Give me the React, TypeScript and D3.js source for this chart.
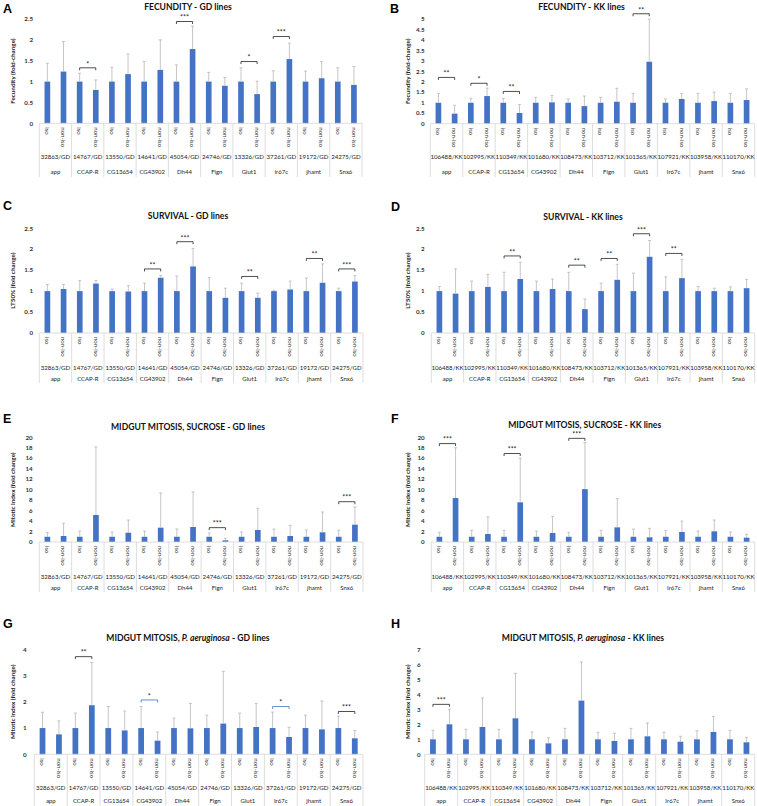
import React from "react";
import * as d3 from "d3";

// ---------- shared categories ----------
const GENES = ["app", "CCAP-R", "CG13654", "CG43902", "Dh44", "Fign", "Glut1", "Ir67c", "jhamt", "Snx6"];
const GD_LINES = ["32863/GD", "14767/GD", "13550/GD", "14641/GD", "45054/GD", "24746/GD", "13326/GD", "37261/GD", "19172/GD", "24275/GD"];
const KK_LINES = ["106488/KK", "102995/KK", "110349/KK", "101680/KK", "108473/KK", "103712/KK", "101365/KK", "107921/KK", "103958/KK", "110170/KK"];
const CONDITIONS = ["iso", "non-iso"];
const ISO_MEAN = [1, 1, 1, 1, 1, 1, 1, 1, 1, 1];

// ---------- A: fecundity GD ----------
const A_TICKS = [0, 0.5, 1, 1.5, 2, 2.5];
const A_NONISO = [1.24, 0.8, 1.18, 1.28, 1.78, 0.9, 0.7, 1.54, 1.08, 0.92];
const A_ISO_SD = [0.44, 0.2, 0.34, 0.48, 0.4, 0.22, 0.33, 0.26, 0.25, 0.33];
const A_NONISO_SD = [0.72, 0.24, 0.48, 0.72, 0.55, 0.2, 0.31, 0.38, 0.4, 0.44];
const A_SIG = [
  { gene: "CCAP-R", label: "*", level: 1.33 },
  { gene: "Dh44", label: "***", level: 2.44 },
  { gene: "Glut1", label: "*", level: 1.48 },
  { gene: "Ir67c", label: "***", level: 2.08 },
];

// ---------- B: fecundity KK ----------
const B_TICKS = [0, 0.5, 1, 1.5, 2, 2.5, 3, 3.5, 4, 4.5, 5];
const B_NONISO = [0.48, 1.32, 0.51, 1.02, 0.84, 1.05, 2.96, 1.18, 1.08, 1.13];
const B_ISO_SD = [0.45, 0.21, 0.21, 0.26, 0.18, 0.26, 0.45, 0.18, 0.45, 0.45];
const B_NONISO_SD = [0.4, 0.38, 0.41, 0.33, 0.48, 0.64, 2.04, 0.27, 0.43, 0.53];
const B_SIG = [
  { gene: "app", label: "**", level: 2.21 },
  { gene: "CCAP-R", label: "*", level: 1.93 },
  { gene: "CG13654", label: "**", level: 1.54 },
  { gene: "Glut1", label: "**", level: 5.25 },
];

// ---------- C: survival GD ----------
const C_TICKS = [0, 0.5, 1, 1.5, 2, 2.5];
const C_NONISO = [1.05, 1.18, 0.99, 1.32, 1.59, 0.84, 0.84, 1.04, 1.2, 1.23];
const C_ISO_SD = [0.16, 0.25, 0.05, 0.19, 0.36, 0.32, 0.19, 0.02, 0.31, 0.07];
const C_NONISO_SD = [0.11, 0.07, 0.14, 0.05, 0.43, 0.23, 0.11, 0.2, 0.45, 0.14];
const C_SIG = [
  { gene: "CG43902", label: "**", level: 1.53 },
  { gene: "Dh44", label: "***", level: 2.18 },
  { gene: "Glut1", label: "**", level: 1.35 },
  { gene: "jhamt", label: "**", level: 1.78 },
  { gene: "Snx6", label: "***", level: 1.53 },
];

// ---------- D: survival KK ----------
const D_TICKS = [0, 0.5, 1, 1.5, 2, 2.5];
const D_NONISO = [0.94, 1.1, 1.29, 1.05, 0.57, 1.27, 1.82, 1.31, 1.0, 1.07];
const D_ISO_SD = [0.11, 0.24, 0.45, 0.24, 0.45, 0.19, 0.43, 0.34, 0.11, 0.1];
const D_NONISO_SD = [0.59, 0.3, 0.4, 0.24, 0.24, 0.37, 0.39, 0.45, 0.07, 0.21];
const D_SIG = [
  { gene: "CG13654", label: "**", level: 1.84 },
  { gene: "Dh44", label: "**", level: 1.62 },
  { gene: "Fign", label: "**", level: 1.78 },
  { gene: "Glut1", label: "***", level: 2.37 },
  { gene: "Ir67c", label: "**", level: 1.9 },
];

// ---------- E: mitosis sucrose GD ----------
const E_TICKS = [0, 2, 4, 6, 8, 10, 12, 14, 16, 18, 20];
const E_NONISO = [1.15, 5.16, 1.78, 2.74, 2.87, 0.32, 2.3, 1.15, 1.85, 3.31];
const E_ISO_SD = [0.78, 1.1, 0.9, 1.1, 1.48, 0.72, 0.9, 1.48, 1.29, 1.23];
const E_NONISO_SD = [2.42, 13.0, 2.42, 6.62, 6.68, 0.38, 4.13, 2.03, 3.88, 3.38];
const E_SIG = [
  { gene: "Fign", label: "***", level: 2.74 },
  { gene: "Snx6", label: "***", level: 7.7 },
];

// ---------- F: mitosis sucrose KK ----------
const F_TICKS = [0, 2, 4, 6, 8, 10, 12, 14, 16, 18, 20];
const F_NONISO = [8.4, 1.53, 7.58, 1.72, 10.1, 2.8, 0.9, 1.91, 2.04, 0.83];
const F_ISO_SD = [0.85, 1.23, 1.23, 1.1, 0.85, 1.23, 1.48, 1.23, 1.1, 0.91];
const F_NONISO_SD = [9.6, 3.25, 8.42, 3.18, 8.9, 5.48, 1.71, 2.09, 2.16, 0.63];
const F_SIG = [
  { gene: "app", label: "***", level: 18.8 },
  { gene: "CG13654", label: "***", level: 16.9 },
  { gene: "Dh44", label: "***", level: 19.8 },
];

// ---------- G: mitosis P. aeruginosa GD ----------
const G_TICKS = [0, 1, 2, 3, 4];
const G_NONISO = [0.76, 1.87, 0.91, 0.52, 0.99, 1.17, 1.04, 0.66, 0.95, 0.61];
const G_ISO_SD = [0.6, 0.57, 0.82, 0.82, 0.38, 0.49, 0.57, 0.61, 0.49, 0.45];
const G_NONISO_SD = [0.51, 1.63, 0.74, 0.33, 0.95, 1.99, 0.9, 0.37, 1.08, 0.3];
const G_SIG = [
  { gene: "CCAP-R", label: "**", level: 3.72 },
  { gene: "CG43902", label: "*", level: 2.07, blue: true },
  { gene: "Ir67c", label: "*", level: 1.82, blue: true },
  { gene: "Snx6", label: "***", level: 1.63 },
];

// ---------- H: mitosis P. aeruginosa KK ----------
const H_TICKS = [0, 1, 2, 3, 4, 5, 6, 7];
const H_NONISO = [2.0, 1.82, 2.4, 0.73, 3.58, 0.89, 1.2, 0.84, 1.49, 0.8];
const H_ISO_SD = [0.6, 0.67, 0.67, 0.49, 0.73, 0.47, 0.73, 0.47, 0.56, 0.6];
const H_NONISO_SD = [1.0, 1.93, 3.0, 0.38, 2.57, 0.51, 0.89, 0.36, 1.04, 0.33];
const H_SIG = [{ gene: "app", label: "***", level: 3.33 }];

// ---------- layout ----------
type Sig = { gene: string; label: string; level: number; blue?: boolean };
type Cfg = {
  letter: string;
  title: string;
  yLabel: string;
  lines: string[];
  ticks: number[];
  noniso: number[];
  isoSd: number[];
  nonisoSd: number[];
  sig: Sig[];
  x0: number; x1: number; yTop: number; yZero: number;
  tickX: number; numsY: number; geneY: number; divBottom: number;
  titleX: number; titleY: number; letterX: number; letterY: number; yTitleX: number;
};

const PANELS: Cfg[] = [
  { letter: "A", title: "FECUNDITY - GD lines", yLabel: "Fecundity (fold-change)", lines: GD_LINES, ticks: A_TICKS,
    noniso: A_NONISO, isoSd: A_ISO_SD, nonisoSd: A_NONISO_SD, sig: A_SIG,
    x0: 39.3, x1: 362, yTop: 19, yZero: 123.3, tickX: 33, numsY: 159, geneY: 174, divBottom: 177,
    titleX: 188, titleY: 9.7, letterX: 3, letterY: 13.3, yTitleX: 15 },
  { letter: "B", title: "FECUNDITY - KK lines", yLabel: "Fecundity (fold-change)", lines: KK_LINES, ticks: B_TICKS,
    noniso: B_NONISO, isoSd: B_ISO_SD, nonisoSd: B_NONISO_SD, sig: B_SIG,
    x0: 430.3, x1: 754.7, yTop: 19, yZero: 123.7, tickX: 424.7, numsY: 159, geneY: 174, divBottom: 177,
    titleX: 581.5, titleY: 9.7, letterX: 390, letterY: 13.3, yTitleX: 410 },
  { letter: "C", title: "SURVIVAL - GD lines", yLabel: "LT50% (fold change)", lines: GD_LINES, ticks: C_TICKS,
    noniso: C_NONISO, isoSd: C_ISO_SD, nonisoSd: C_NONISO_SD, sig: C_SIG,
    x0: 39.3, x1: 363, yTop: 228.3, yZero: 333, tickX: 33, numsY: 370, geneY: 380.5, divBottom: 383,
    titleX: 188, titleY: 219, letterX: 3, letterY: 210, yTitleX: 15 },
  { letter: "D", title: "SURVIVAL - KK lines", yLabel: "LT50% (fold change)", lines: KK_LINES, ticks: D_TICKS,
    noniso: D_NONISO, isoSd: D_ISO_SD, nonisoSd: D_NONISO_SD, sig: D_SIG,
    x0: 431.3, x1: 754.7, yTop: 228.3, yZero: 333, tickX: 424.7, numsY: 370, geneY: 380.5, divBottom: 383,
    titleX: 583, titleY: 219.7, letterX: 391, letterY: 210.7, yTitleX: 410.3 },
  { letter: "E", title: "MIDGUT MITOSIS, SUCROSE - GD lines", yLabel: "Mitotic index (fold change)", lines: GD_LINES, ticks: E_TICKS,
    noniso: E_NONISO, isoSd: E_ISO_SD, nonisoSd: E_NONISO_SD, sig: E_SIG,
    x0: 39.3, x1: 363, yTop: 437.3, yZero: 542, tickX: 32.7, numsY: 579, geneY: 590, divBottom: 592,
    titleX: 188, titleY: 429.7, letterX: 3, letterY: 423.3, yTitleX: 15 },
  { letter: "F", title: "MIDGUT MITOSIS, SUCROSE - KK lines", yLabel: "Mitotic index (fold change)", lines: KK_LINES, ticks: F_TICKS,
    noniso: F_NONISO, isoSd: F_ISO_SD, nonisoSd: F_NONISO_SD, sig: F_SIG,
    x0: 431.3, x1: 754.7, yTop: 437.3, yZero: 542, tickX: 424.7, numsY: 579, geneY: 590, divBottom: 592,
    titleX: 584.7, titleY: 428, letterX: 391, letterY: 423.3, yTitleX: 410.3 },
  { letter: "G", title: "GD", yLabel: "Mitotic index (fold change)", lines: GD_LINES, ticks: G_TICKS,
    noniso: G_NONISO, isoSd: G_ISO_SD, nonisoSd: G_NONISO_SD, sig: G_SIG,
    x0: 34.3, x1: 363, yTop: 649.3, yZero: 754.3, tickX: 26.7, numsY: 790, geneY: 803, divBottom: 806,
    titleX: 188, titleY: 641.3, letterX: 3, letterY: 628.3, yTitleX: 15 },
  { letter: "H", title: "KK", yLabel: "Mitotic index (fold change)", lines: KK_LINES, ticks: H_TICKS,
    noniso: H_NONISO, isoSd: H_ISO_SD, nonisoSd: H_NONISO_SD, sig: H_SIG,
    x0: 424.7, x1: 754.7, yTop: 649.3, yZero: 754.3, tickX: 420.7, numsY: 790, geneY: 803, divBottom: 806,
    titleX: 583, titleY: 640.7, letterX: 391, letterY: 628.3, yTitleX: 410.3 },
];

const FONT = "Lato, 'Open Sans', sans-serif";
const BAR = "#4472C4";
const AXIS = "#d4d4d4";
const ERR = "#b8b8b8";

function Title({ cfg }: { cfg: Cfg }) {
  const common = { x: cfg.titleX, y: cfg.titleY, textAnchor: "middle" as const, fontSize: 8.6, fontWeight: 700, fill: "#111", fontFamily: FONT };
  if (cfg.title === "GD" || cfg.title === "KK") {
    return (
      <text {...common}>
        MIDGUT MITOSIS, <tspan fontStyle="italic">P. aeruginosa</tspan> - {cfg.title} lines
      </text>
    );
  }
  return <text {...common}>{cfg.title}</text>;
}

function Panel({ cfg }: { cfg: Cfg }) {
  const gx = d3.scaleBand<string>().domain(GENES).range([cfg.x0, cfg.x1]).padding(0);
  const cx = d3.scaleBand<string>().domain(CONDITIONS).range([0, gx.bandwidth()]).paddingInner(0.65).paddingOuter(0.325);
  const yMax = cfg.ticks[cfg.ticks.length - 1];
  const y = d3.scaleLinear().domain([0, yMax]).range([cfg.yZero, cfg.yTop]);
  const bw = cx.bandwidth();
  const center = (g: string, c: string) => (gx(g) as number) + (cx(c) as number) + bw / 2;
  const bars = GENES.flatMap((g, i) => [
    { g, c: "iso", v: ISO_MEAN[i], sd: cfg.isoSd[i] },
    { g, c: "non-iso", v: cfg.noniso[i], sd: cfg.nonisoSd[i] },
  ]);
  const boundaries = [...GENES.map((g) => gx(g) as number), cfg.x1];
  const midY = (cfg.yTop + cfg.yZero) / 2;
  return (
    <g fontFamily={FONT}>
      <text x={cfg.letterX} y={cfg.letterY} fontSize={12.5} fontWeight={700} fontFamily="'Liberation Sans', Arial, sans-serif" fill="#000">
        {cfg.letter}
      </text>
      <Title cfg={cfg} />
      <text transform={`translate(${cfg.yTitleX},${midY}) rotate(-90)`} textAnchor="middle" fontSize={6.3} fontWeight={700} fill="#222">
        {cfg.yLabel}
      </text>
      {cfg.ticks.map((t) => (
        <text key={t} x={cfg.tickX} y={y(t) + 2.2} textAnchor="end" fontSize={6.2} fontWeight={700} fill="#333">
          {d3.format("~g")(t)}
        </text>
      ))}
      {bars.map((b) => (
        <rect key={b.g + b.c} x={center(b.g, b.c) - bw / 2} y={y(b.v)} width={bw} height={cfg.yZero - y(b.v)} fill={BAR} />
      ))}
      {bars.map((b) => {
        const xc = center(b.g, b.c);
        const top = y(b.v + b.sd);
        return (
          <g key={"e" + b.g + b.c} stroke={ERR} strokeWidth={0.8}>
            <line x1={xc} x2={xc} y1={y(b.v)} y2={top} />
            <line x1={xc - 1.5} x2={xc + 1.5} y1={top} y2={top} />
          </g>
        );
      })}
      <line x1={cfg.x0} x2={cfg.x1} y1={cfg.yZero} y2={cfg.yZero} stroke={AXIS} strokeWidth={0.8} />
      {boundaries.map((bx, i) => (
        <line key={"d" + i} x1={bx} x2={bx} y1={cfg.yZero} y2={cfg.divBottom} stroke={AXIS} strokeWidth={0.8} />
      ))}
      {GENES.flatMap((g) =>
        CONDITIONS.map((c) => (
          <text key={"c" + g + c} transform={`translate(${center(g, c) - 2.2},${cfg.yZero + 4}) rotate(90)`} fontSize={6} fill="#333">
            {c}
          </text>
        ))
      )}
      {GENES.map((g, i) => (
        <text key={"n" + g} x={(gx(g) as number) + gx.bandwidth() / 2} y={cfg.numsY} textAnchor="middle" fontSize={6.1} fill="#222">
          {cfg.lines[i]}
        </text>
      ))}
      {GENES.map((g) => (
        <text key={"g" + g} x={(gx(g) as number) + gx.bandwidth() / 2} y={cfg.geneY} textAnchor="middle" fontSize={6} fill="#222">
          {g}
        </text>
      ))}
      {cfg.sig.map((s) => {
        const xa = center(s.gene, "iso");
        const xb = center(s.gene, "non-iso");
        const yy = y(s.level);
        const col = s.blue ? "#4472C4" : "#222";
        return (
          <g key={"s" + s.gene}>
            <path d={`M${xa},${yy + 2.5}V${yy}H${xb}V${yy + 2.5}`} fill="none" stroke={col} strokeWidth={0.8} />
            <text x={(xa + xb) / 2} y={yy - 1.2} textAnchor="middle" fontSize={7} fill="#222">
              {s.label}
            </text>
          </g>
        );
      })}
    </g>
  );
}

export default function App() {
  return (
    <svg width={757} height={806} style={{ position: "absolute", left: 0, top: 0, background: "#fff" }}>
      <rect width={757} height={806} fill="#fff" />
      {PANELS.map((p) => (
        <Panel key={p.letter} cfg={p} />
      ))}
    </svg>
  );
}
